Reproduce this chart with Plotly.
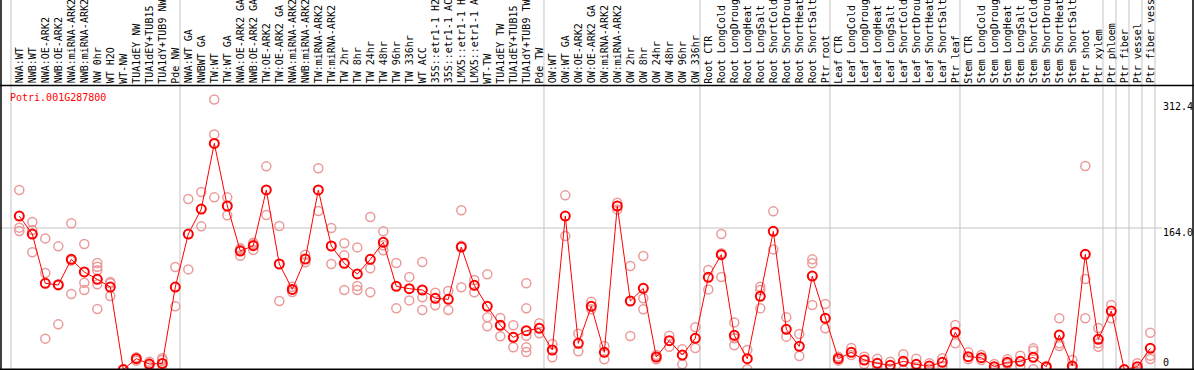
import plotly.graph_objects as go

categories = [
    "NWA:WT", "NWB:WT", "NWA:OE-ARK2", "NWB:OE-ARK2", "NWA:miRNA-ARK2", "NWB:miRNA-ARK2",
    "NW 0hr", "WT H2O", "WT-NW", "TUA1dEY NW", "TUA1dEY+TUB15 NW", "TUA1dY+TUB9 NW", "Pde NW",
    "NWA:WT GA", "NWBWT GA", "TW:WT", "TW:WT GA", "NWA:OE-ARK2 GA", "NWB:OE-ARK2 GA",
    "TW:OE-ARK2", "TW:OE-ARK2 GA", "NWA:miRNA-ARK2 GA", "NWB:miRNA-ARK2 GA", "TW:miRNA-ARK2",
    "TW:miRNA-ARK2 GA", "TW 2hr", "TW 8hr", "TW 24hr", "TW 48hr", "TW 96hr", "TW 336hr",
    "WT ACC", "35S::etr1-1 H2O", "35S::etr1-1 ACC", "LMX5::etr1-1 H2O", "LMX5::etr1-1 ACC",
    "WT-TW", "TUA1dEY TW", "TUA1dEY+TUB15 TW", "TUA1dY+TUB9 TW", "Pde TW",
    "OW:WT", "OW:WT GA", "OW:OE-ARK2", "OW:OE-ARK2 GA", "OW:miRNA-ARK2", "OW:miRNA-ARK2 GA",
    "OW 2hr", "OW 8hr", "OW 24hr", "OW 48hr", "OW 96hr", "OW 336hr",
    "Root CTR", "Root LongCold", "Root LongDrought", "Root LongHeat", "Root LongSalt",
    "Root ShortCold", "Root ShortDrought", "Root ShortHeat", "Root ShortSalt", "Ptr root",
    "Leaf CTR", "Leaf LongCold", "Leaf LongDrought", "Leaf LongHeat", "Leaf LongSalt",
    "Leaf ShortCold", "Leaf ShortDrought", "Leaf ShortHeat", "Leaf ShortSalt", "Ptr leaf",
    "Stem CTR", "Stem LongCold", "Stem LongDrought", "Stem LongHeat", "Stem LongSalt",
    "Stem ShortCold", "Stem ShortDrought", "Stem ShortHeat", "Stem ShortSalt", "Ptr shoot",
    "Ptr xylem", "Ptr phloem", "Ptr fiber", "Ptr vessel", "Ptr fiber vessel",
]

group_sizes = [13, 28, 12, 10, 10, 11, 1, 1, 1, 1]

mean_values = [
    177.8, 157.0, 100.1, 98.2, 127.8, 113.2, 104.7, 95.8, 0.5, 13.1,
    6.9, 7.5, 95.8, 157.0, 185.9, 261.7, 189.4, 137.4, 143.6, 207.9,
    122.4, 93.1, 128.2, 207.9, 143.2, 123.2, 110.9, 127.8, 147.4, 96.6,
    93.9, 92.4, 82.8, 81.6, 142.0, 97.8, 73.5, 51.6, 37.7, 45.4,
    48.1, 23.1, 177.8, 30.8, 73.5, 20.4, 189.4, 79.7, 94.3, 15.0,
    33.9, 17.3, 36.6, 107.0, 133.2, 40.0, 13.1, 85.1, 160.1, 47.0,
    27.3, 108.5, 59.7, 13.1, 20.4, 11.5, 7.7, 5.4, 10.0, 6.5,
    4.6, 8.9, 43.5, 15.4, 14.2, 3.8, 8.9, 10.0, 14.6, 3.8,
    40.4, 4.6, 133.6, 35.4, 68.1, 0.5, 3.8, 25.0,
]

replicate_values = [
    [207.9, 164.4, 160.5], [170.9, 161.7, 135.9], [152.0, 112.0, 36.2], [142.8, 52.7, 98.9],
    [169.4, 126.3, 87.8], [145.5, 100.8, 92.4], [123.6, 119.3, 115.1, 98.9, 70.4],
    [101.6, 85.5, 100.1], [0.5, 0.3], [14.6, 10.8, 13.5], [9.6, 6.9, 4.2], [13.5, 11.5, 0.0],
    [118.9, 73.5], [197.5, 116.2], [205.5, 165.9], [312.4, 272.1, 199.4], [199.4, 178.6],
    [140.5, 132.0, 139.3], [147.0, 138.6, 145.1], [235.2, 179.0], [166.3, 79.7],
    [96.2, 93.1, 90.1], [133.2, 124.3], [232.9, 183.6], [164.0, 122.4], [146.3, 132.4, 92.4],
    [141.6, 97.0, 92.4], [176.7, 117.4, 89.7], [160.1, 138.2, 144.0], [123.6, 71.2],
    [107.4, 80.4], [124.7, 83.9, 69.3], [89.3, 74.7], [91.2, 69.3], [184.4, 143.6, 95.5],
    [103.9, 89.7], [110.5, 60.8, 50.4], [60.0, 51.6, 38.9], [51.6, 26.2, 37.7],
    [100.1, 71.2, 39.6, 26.2, 20.8], [53.9, 42.3], [30.0, 14.6], [201.7, 154.7],
    [42.0, 21.6], [78.9, 70.1], [27.7, 12.3], [193.2, 185.5], [120.1, 39.3],
    [131.6, 82.8, 70.1], [17.3, 12.3], [39.6, 26.9], [23.9, 6.5], [49.3, 25.4],
    [115.5, 93.1], [157.0, 134.7, 107.4], [55.0, 36.6, 28.5], [23.1, 0.8],
    [96.2, 92.4, 71.2], [183.2, 139.3], [60.8, 38.5], [41.6, 16.2], [127.8, 123.2, 75.1],
    [76.2, 48.1], [15.4, 10.8], [25.4, 17.3], [15.4, 6.9], [13.1, 3.8], [9.6, 1.5],
    [18.1, 0.0], [13.1, 1.5], [7.7, 1.5], [13.5, 4.6], [52.0, 30.8], [20.4, 12.3],
    [17.3, 11.5], [6.9, 0.8], [12.3, 6.9], [16.6, 4.6], [25.0, 22.3, 0.8], [3.8, 2.3],
    [59.7, 30.8, 27.7], [11.5, 0.8], [235.6, 105.1, 59.7], [48.5, 30.8, 26.9],
    [75.1, 59.7], [0.5, 0.3], [7.7, 0.8], [43.1, 16.5, 12.7],
]

gene_name = "Potri.001G287800"
tick_values = ["312.4", "164.0", "0"]
grid_value = 164.0

# ---- layout geometry (pixels) ----
W, H = 1194, 370
PX_PER_CAT = 13.0
FIRST_X_PX = 19.3
PLOT_TOP_PX = 86
Y_PX_PER_UNIT = 0.8659
MONO = "DejaVu Sans Mono"

x_idx = list(range(1, len(categories) + 1))
x_lo = 1 - FIRST_X_PX / PX_PER_CAT
x_hi = x_lo + W / PX_PER_CAT
y_hi = (H - PLOT_TOP_PX) / Y_PX_PER_UNIT


def px_to_paper_y(py):
    return (H - py) / H


rep_x, rep_y = [], []
for i, reps in zip(x_idx, replicate_values):
    for r in reps:
        rep_x.append(i)
        rep_y.append(r)

fig = go.Figure()
fig.add_trace(go.Scatter(
    x=rep_x, y=rep_y, mode="markers",
    marker=dict(symbol="circle-open", size=9, color="#eb9a9a", line=dict(width=1.5)),
    hoverinfo="skip", showlegend=False,
))
fig.add_trace(go.Scatter(
    x=x_idx, y=mean_values, mode="lines+markers",
    line=dict(color="#ff0000", width=1),
    marker=dict(symbol="circle-open", size=9, color="#ff0000", line=dict(width=2)),
    text=categories, showlegend=False,
))

shapes = []
# vertical group separators
boundaries = [0]
for g in group_sizes:
    boundaries.append(boundaries[-1] + g)
for b in boundaries:
    shapes.append(dict(type="line", xref="x", yref="paper", x0=b + 0.36, x1=b + 0.36,
                       y0=0, y1=1, line=dict(color="#c4c4c4", width=1), layer="below"))
# horizontal grid line
shapes.append(dict(type="line", xref="paper", yref="y", x0=0, x1=1162 / W,
                   y0=grid_value, y1=grid_value, line=dict(color="#c4c4c4", width=1), layer="below"))
# black frame lines
black = dict(color="#000000", width=1.5)
shapes.append(dict(type="line", xref="paper", yref="paper", x0=0, x1=1,
                   y0=px_to_paper_y(85.5), y1=px_to_paper_y(85.5), line=black))
shapes.append(dict(type="line", xref="paper", yref="paper", x0=1 / W, x1=1 / W,
                   y0=0, y1=1, line=black))
shapes.append(dict(type="line", xref="paper", yref="paper", x0=1193 / W, x1=1193 / W,
                   y0=0, y1=1, line=black))
shapes.append(dict(type="line", xref="paper", yref="paper", x0=0, x1=1,
                   y0=px_to_paper_y(369.2), y1=px_to_paper_y(369.2), line=black))

annotations = []
for i, c in zip(x_idx, categories):
    annotations.append(dict(
        x=i + 0.04, xref="x", y=px_to_paper_y(85.5), yref="paper",
        text=c, textangle=-90, showarrow=False, xanchor="center", yanchor="bottom",
        font=dict(family=MONO, size=10, color="#000000"),
    ))
annotations.append(dict(
    x=8 / W, xref="paper", y=px_to_paper_y(97), yref="paper", text=gene_name,
    showarrow=False, xanchor="left", yanchor="middle",
    font=dict(family=MONO, size=10, color="#ff0000"),
))
for t, py in zip(tick_values, [106.5, 232.5, 362.0]):
    annotations.append(dict(
        x=1161 / W, xref="paper", y=px_to_paper_y(py), yref="paper", text=t,
        showarrow=False, xanchor="left", yanchor="middle",
        font=dict(family=MONO, size=10, color="#000000"),
    ))

fig.update_layout(
    width=W, height=H,
    margin=dict(l=0, r=0, t=0, b=0),
    paper_bgcolor="#ffffff", plot_bgcolor="rgba(0,0,0,0)",
    font=dict(family=MONO, size=10),
    xaxis=dict(range=[x_lo, x_hi], domain=[0, 1], showgrid=False, zeroline=False,
               showticklabels=False, ticks="", showline=False, fixedrange=True),
    yaxis=dict(range=[0, y_hi], domain=[0, (H - PLOT_TOP_PX) / H], showgrid=False,
               zeroline=False, showticklabels=False, ticks="", showline=False, fixedrange=True),
    shapes=shapes, annotations=annotations,
    showlegend=False,
)

fig.write_html(
    "out.html",
    config={"displayModeBar": False},
    post_script="document.body.style.margin='0px';document.body.style.overflow='hidden';",
)
